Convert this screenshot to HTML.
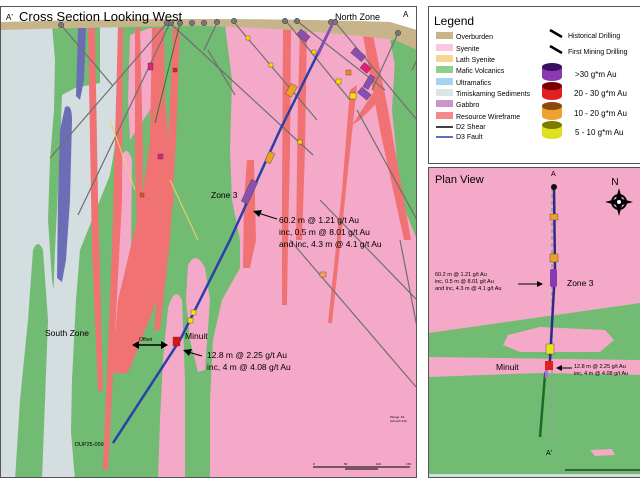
<!DOCTYPE html>
<html><head><meta charset="utf-8"><style>
html,body{margin:0;padding:0;background:#fff;}
svg{display:block;font-family:"Liberation Sans",sans-serif;}
</style></head><body>
<svg width="640" height="480" viewBox="0 0 640 480" xmlns="http://www.w3.org/2000/svg">
<defs><clipPath id="cs"><rect x="1" y="7" width="415" height="470"/></clipPath>
<clipPath id="pv"><rect x="429" y="168" width="211" height="310"/></clipPath></defs>
<rect width="640" height="480" fill="#fff"/>
<g clip-path="url(#cs)">
<rect x="0" y="0" width="420" height="480" fill="#72bb73"/>
<!-- grey sediments -->
<path d="M0,25 L52,25 L55,60 L54,110 L50,160 L48,220 L52,280 L55,300 L60,340 L65,380 L70,420 L75,480 L0,480Z" fill="#d4dde0"/>
<path d="M100,25 L118,25 L117,80 L116,140 L110,175 L100,200 L88,230 L80,250 L76,300 L72,380 L70,480 L60,480 L55,400 L52,330 L55,250 L60,150 L62,95 L75,88 L100,83Z" fill="#d4dde0"/>
<path d="M33,250 Q38,238 43,250 L48,320 L45,400 L42,480 L15,480 L20,400 L28,320Z" fill="#72bb73"/>
<!-- blue dykes -->
<path d="M78,28 L86,28 L84,80 L80,100 L76,96Z" fill="#6b6eb6"/>
<path d="M65,107 Q72,103 72,120 L70,200 L66,260 L62,282 L57,278 L58,200 L60,130Z" fill="#6b6eb6"/>
<!-- pink syenite left -->
<path d="M130,35 L150,28 L158,30 L156,90 L150,110 L140,125 L130,140 L128,100Z" fill="#f4a9c9"/>
<path d="M122,155 Q128,145 132,160 L131,250 L124,330 L112,335 L112,260 L116,200Z" fill="#f4a9c9"/>
<!-- pink right large -->
<path d="M225,25 L390,25 L395,60 L392,110 L397,160 L405,210 L417,240 L417,480 L210,480 L210,400 L213,340 L222,300 L240,268 L240,240 L232,200 L230,150 L232,80Z" fill="#f4a9c9"/>
<path d="M168,308 Q175,285 182,300 L185,380 L185,480 L158,480 L160,420 L163,360Z" fill="#f4a9c9"/>
<path d="M188,265 Q196,250 205,268 L210,300 L205,370 L198,372 L190,340 L186,300Z" fill="#f4a9c9"/>
<path d="M390,40 L417,45 L417,110 L405,105 L398,80Z" fill="#72bb73"/>
<!-- red wireframes -->
<g fill="#f07272">
<path d="M88,28 L95,28 L98,200 L103,390 L98,392 L92,250Z"/>
<path d="M118,28 L123,28 L122,200 L108,470 L103,470 L112,250Z"/>
<path d="M135,28 L140,28 L143,150 L142,240 L137,240 L135,150Z"/>
<path d="M152,28 L164,28 L165,100 L170,160 L174,200 L165,240 L157,300 L128,373 L112,373 L118,300 L130,250 L142,200 L150,140Z"/>
<path d="M173,28 L180,28 L176,140 L170,240 L160,330 L154,330 L162,240 L168,150Z"/>
<path d="M247,160 L254,160 L256,240 L250,268 L243,268 L244,200Z"/>
<path d="M283,28 L291,28 L290,150 L288,240 L287,305 L282,305 L282,200Z"/>
<path d="M300,28 L307,28 L305,150 L302,240 L296,240 L298,100Z"/>
<path d="M362,30 L372,30 L388,110 L411,240 L404,240 L380,130Z"/>
<path d="M350,90 L357,85 L346,190 L332,323 L328,323 L342,190Z"/>
<path d="M375,90 L385,95 L360,120 L352,125Z"/>
</g>
<!-- overburden -->
<path d="M0,22 Q200,16 390,22 L417,30 L417,50 L395,40 Q300,28 200,26 Q100,27 0,30Z" fill="#c8b48a"/>
<path d="M0,7 L417,7 L417,30 L390,22 Q200,16 0,22Z" fill="#fff"/>
<!-- drill lines -->
<g stroke="#6f6f6f" stroke-width="1.2" fill="none">
<line x1="61" y1="25" x2="113" y2="86"/>
<line x1="167" y1="23" x2="50" y2="158"/>
<line x1="170" y1="23" x2="78" y2="215"/>
<line x1="170" y1="23" x2="313" y2="155"/>
<line x1="217" y1="23" x2="204" y2="50"/>
<line x1="208" y1="50" x2="235" y2="95"/>
<line x1="233" y1="21" x2="317" y2="120"/>
<line x1="286" y1="21" x2="350" y2="100"/>
<line x1="297" y1="21" x2="385" y2="90"/>
<line x1="335" y1="22" x2="417" y2="120"/>
<line x1="398" y1="33" x2="372" y2="90"/>
<line x1="357" y1="110" x2="417" y2="220"/>
<line x1="320" y1="200" x2="417" y2="300"/>
<line x1="290" y1="240" x2="417" y2="388"/>
<line x1="400" y1="240" x2="417" y2="327"/>
<line x1="417" y1="60" x2="412" y2="70"/>
</g>
<line x1="180" y1="23" x2="155" y2="123" stroke="#2f7a38" stroke-width="1"/>
<line x1="110" y1="120" x2="135" y2="190" stroke="#f3d068" stroke-width="1"/>
<line x1="170" y1="180" x2="198" y2="240" stroke="#f3d068" stroke-width="1"/>
<g fill="#777" stroke="#444" stroke-width="0.5">
<circle cx="61" cy="25" r="2.8"/><circle cx="167" cy="23" r="2.8"/><circle cx="171" cy="23" r="2.8"/><circle cx="180" cy="23" r="2.8"/><circle cx="192" cy="23" r="2.8"/><circle cx="204" cy="23" r="2.8"/><circle cx="217" cy="22" r="2.8"/><circle cx="234" cy="21" r="2.8"/><circle cx="285" cy="21" r="2.8"/><circle cx="297" cy="21" r="2.8"/><circle cx="331" cy="22" r="2.8"/><circle cx="335" cy="22" r="2.8"/><circle cx="398" cy="33" r="2.8"/>
</g>
<polyline points="333,23 280,130 230,240 180,340 113,443" stroke="#2b3fa8" stroke-width="2.5" fill="none"/>
<line x1="333" y1="23" x2="318" y2="55" stroke="#8a4fb0" stroke-width="2.5"/>
<g stroke="#444" stroke-width="0.4">
<rect x="288" y="84" width="7" height="12" fill="#f0a020" transform="rotate(30 291 90)"/>
<rect x="246" y="180" width="7" height="24" fill="#8a4fb0" transform="rotate(25 250 192)"/>
<rect x="267" y="152" width="6" height="11" fill="#f0a020" transform="rotate(25 270 157)"/>
<rect x="300" y="30" width="7" height="12" fill="#8a4fb0" transform="rotate(-50 303 36)"/>
<rect x="355" y="48" width="7" height="14" fill="#8a4fb0" transform="rotate(-50 358 55)"/>
<rect x="362" y="64" width="7" height="9" fill="#e0207a" transform="rotate(-50 365 68)"/>
<rect x="366" y="75" width="6" height="14" fill="#8a4fb0" transform="rotate(30 369 82)"/>
<rect x="361" y="88" width="7" height="12" fill="#8a4fb0" transform="rotate(-50 364 94)"/>
<rect x="148" y="63" width="5" height="7" fill="#e0207a"/>
<rect x="158" y="154" width="5" height="5" fill="#e0207a"/>
<rect x="173" y="68" width="4" height="4" fill="#d22"/>
<rect x="346" y="70" width="5" height="5" fill="#f08a20"/>
<rect x="350" y="93" width="6" height="6" fill="#ffe000"/>
<rect x="336" y="79" width="5" height="5" fill="#ffe000"/>
<rect x="312" y="50" width="4" height="4" fill="#ffe000"/>
<rect x="246" y="36" width="4" height="4" fill="#ffe000"/>
<rect x="269" y="63" width="4" height="4" fill="#ffe000"/>
<rect x="298" y="140" width="4" height="4" fill="#ffe000"/>
<rect x="320" y="272" width="6" height="5" fill="#f7a060"/>
<rect x="191" y="310" width="5" height="5" fill="#ffe000"/>
<rect x="188" y="318" width="5" height="5" fill="#ffe000"/>
<rect x="173" y="337" width="7" height="9" fill="#e01010"/>
<rect x="140" y="193" width="4" height="4" fill="#e05020"/>
</g>
<text x="6" y="20" font-size="8">A'</text>
<text x="19" y="21" font-size="13">Cross Section Looking West</text>
<text x="335" y="20" font-size="9">North Zone</text>
<text x="403" y="17" font-size="8">A</text>
<text x="211" y="198" font-size="8.5">Zone 3</text>
<text x="279" y="223" font-size="8.5">60.2 m @ 1.21 g/t Au</text>
<text x="279" y="235" font-size="8.5">inc, 0.5 m @ 8.01 g/t Au</text>
<text x="279" y="247" font-size="8.5">and inc, 4.3 m @ 4.1 g/t Au</text>
<line x1="277" y1="219" x2="258" y2="213" stroke="#000" stroke-width="1"/>
<path d="M253,211 L262,210 L259,217Z" fill="#000"/>
<text x="45" y="336" font-size="8.5">South Zone</text>
<text x="185" y="339" font-size="8.5">Minuit</text>
<text x="207" y="358" font-size="8.5">12.8 m @ 2.25 g/t Au</text>
<text x="207" y="370" font-size="8.5">inc, 4 m @ 4.08 g/t Au</text>
<line x1="202" y1="356" x2="188" y2="352" stroke="#000" stroke-width="1"/>
<path d="M183,350 L192,349 L189,356Z" fill="#000"/>
<text x="139" y="341" font-size="5">Offset</text>
<line x1="137" y1="345" x2="163" y2="345" stroke="#000" stroke-width="1.5"/>
<path d="M132,345 L139,341 L139,349Z M168,345 L161,341 L161,349Z" fill="#000"/>
<text x="75" y="446" font-size="5.5">DUP25-059</text>
<text x="390" y="418" font-size="3">Plunge -51</text>
<text x="390" y="422" font-size="3">Azimuth 212</text>
<line x1="313" y1="467" x2="410" y2="467" stroke="#000" stroke-width="1"/>
<line x1="345" y1="469" x2="378" y2="469" stroke="#000" stroke-width="1"/>
<text x="313" y="465" font-size="3">0</text><text x="344" y="465" font-size="3">50</text><text x="376" y="465" font-size="3">100</text><text x="406" y="465" font-size="3">150</text>
</g>
<rect x="0.5" y="6.5" width="416" height="471" fill="none" stroke="#555" stroke-width="1"/>

<rect x="428.5" y="6.5" width="212" height="157" fill="#fff" stroke="#555" stroke-width="1"/>
<text x="434" y="25" font-size="12">Legend</text>
<g font-size="7">
<rect x="436" y="32" width="17" height="7" fill="#c8b48a"/><text x="456" y="39">Overburden</text>
<rect x="436" y="44" width="17" height="7" fill="#f9c7de"/><text x="456" y="51">Syenite</text>
<rect x="436" y="55" width="17" height="7" fill="#fbd493"/><text x="456" y="62">Lath Syenite</text>
<rect x="436" y="66" width="17" height="7" fill="#8fcf8c"/><text x="456" y="73">Mafic Volcanics</text>
<rect x="436" y="78" width="17" height="7" fill="#a9d2f0"/><text x="456" y="85">Ultramafics</text>
<rect x="436" y="89" width="17" height="7" fill="#dce4e6"/><text x="456" y="96">Timiskaming Sediments</text>
<rect x="436" y="100" width="17" height="7" fill="#cc93cc"/><text x="456" y="107">Gabbro</text>
<rect x="436" y="112" width="17" height="7" fill="#f58a8a"/><text x="456" y="119">Resource Wireframe</text>
<line x1="436" y1="127" x2="453" y2="127" stroke="#000" stroke-width="1.5"/><text x="456" y="129">D2 Shear</text>
<line x1="436" y1="137" x2="453" y2="137" stroke="#2b3fa8" stroke-width="1.5"/><text x="456" y="139">D3 Fault</text>
<line x1="550" y1="30" x2="562" y2="37" stroke="#000" stroke-width="2.5"/><text x="568" y="38">Historical Drilling</text>
<line x1="550" y1="46" x2="562" y2="53" stroke="#000" stroke-width="2.5"/><text x="568" y="54">First Mining Drilling</text>
</g>
<g font-size="8">
<ellipse cx="552" cy="77" rx="10" ry="4" fill="#8a3ab0"/><rect x="542" y="67" width="20" height="10" fill="#8a3ab0"/><ellipse cx="552" cy="67" rx="10" ry="4" fill="#3a1060"/><text x="575" y="77">&gt;30 g*m Au</text>
<ellipse cx="552" cy="96" rx="10" ry="4" fill="#e02020"/><rect x="542" y="86" width="20" height="10" fill="#e02020"/><ellipse cx="552" cy="86" rx="10" ry="4" fill="#700"/><text x="574" y="96">20 - 30 g*m Au</text>
<ellipse cx="552" cy="116" rx="10" ry="4" fill="#f0a030"/><rect x="542" y="106" width="20" height="10" fill="#f0a030"/><ellipse cx="552" cy="106" rx="10" ry="4" fill="#8a4a10"/><text x="574" y="116">10 - 20 g*m Au</text>
<ellipse cx="552" cy="135" rx="10" ry="4" fill="#e0e020"/><rect x="542" y="125" width="20" height="10" fill="#e0e020"/><ellipse cx="552" cy="125" rx="10" ry="4" fill="#7a7a00"/><text x="575" y="135">5 - 10 g*m Au</text>
</g>

<g clip-path="url(#pv)">
<rect x="429" y="168" width="211" height="310" fill="#f4a9c9"/>
<path d="M429,333 L640,303 L640,480 L429,480Z" fill="#72bb73"/>
<path d="M508,335 L540,327 L605,330 L614,340 L600,352 L520,352 L503,345Z" fill="#f4a9c9"/>
<path d="M429,357 L640,360 L640,375 L540,373 L429,377Z" fill="#f4a9c9"/>
<path d="M590,450 L612,449 L615,455 L595,456Z" fill="#f4a9c9"/>
<rect x="429" y="474" width="211" height="6" fill="#d4dde0"/>
<line x1="552" y1="187" x2="552" y2="440" stroke="#999" stroke-width="1.5" stroke-dasharray="4,3"/>
<polyline points="554,187 555,270 550,360 545,375" stroke="#2b2b8a" stroke-width="2.5" fill="none"/>
<polyline points="545,375 540,437" stroke="#1f6a2a" stroke-width="2.5" fill="none"/>
<circle cx="554" cy="187" r="3" fill="#111"/>
<rect x="550" y="214" width="8" height="6" fill="#f0a020" stroke="#444" stroke-width="0.4"/>
<rect x="550" y="254" width="8" height="8" fill="#f0a020" stroke="#444" stroke-width="0.4"/>
<rect x="550" y="269" width="7" height="18" rx="2" fill="#8a3ab0"/>
<rect x="546" y="344" width="8" height="10" fill="#e8e020" stroke="#444" stroke-width="0.4"/>
<rect x="545" y="361" width="8" height="9" fill="#e02020"/>
<rect x="545" y="370" width="3" height="8" fill="#b070d0"/>
</g>
<rect x="428.5" y="167.5" width="212" height="310" fill="none" stroke="#555" stroke-width="1"/>
<text x="435" y="183" font-size="11">Plan View</text>
<text x="551" y="176" font-size="7">A</text>
<text x="546" y="455" font-size="7">A'</text>
<text x="567" y="286" font-size="8.5">Zone 3</text>
<text x="496" y="370" font-size="8.5">Minuit</text>
<g font-size="5.5">
<text x="435" y="276">60.2 m @ 1.21 g/t Au</text>
<text x="435" y="283">inc, 0.5 m @ 8.01 g/t Au</text>
<text x="435" y="290">and inc, 4.3 m @ 4.1 g/t Au</text>
<text x="574" y="368">12.8 m @ 2.25 g/t Au</text>
<text x="574" y="375">inc, 4 m @ 4.08 g/t Au</text>
</g>
<line x1="518" y1="284" x2="538" y2="284" stroke="#000" stroke-width="1"/>
<path d="M543,284 L537,281 L537,287Z" fill="#000"/>
<line x1="572" y1="368" x2="561" y2="368" stroke="#000" stroke-width="1"/>
<path d="M556,368 L562,365 L562,371Z" fill="#000"/>
<text x="615" y="185" font-size="10" text-anchor="middle">N</text>
<circle cx="619" cy="202" r="7" fill="none" stroke="#000" stroke-width="2"/>
<path d="M619,188 L622,199 L633,202 L622,205 L619,216 L616,205 L605,202 L616,199Z" fill="#000"/>
<circle cx="619" cy="202" r="2" fill="#fff"/>
<line x1="565" y1="470" x2="640" y2="470" stroke="#000" stroke-width="1"/>
</svg>
</body></html>
